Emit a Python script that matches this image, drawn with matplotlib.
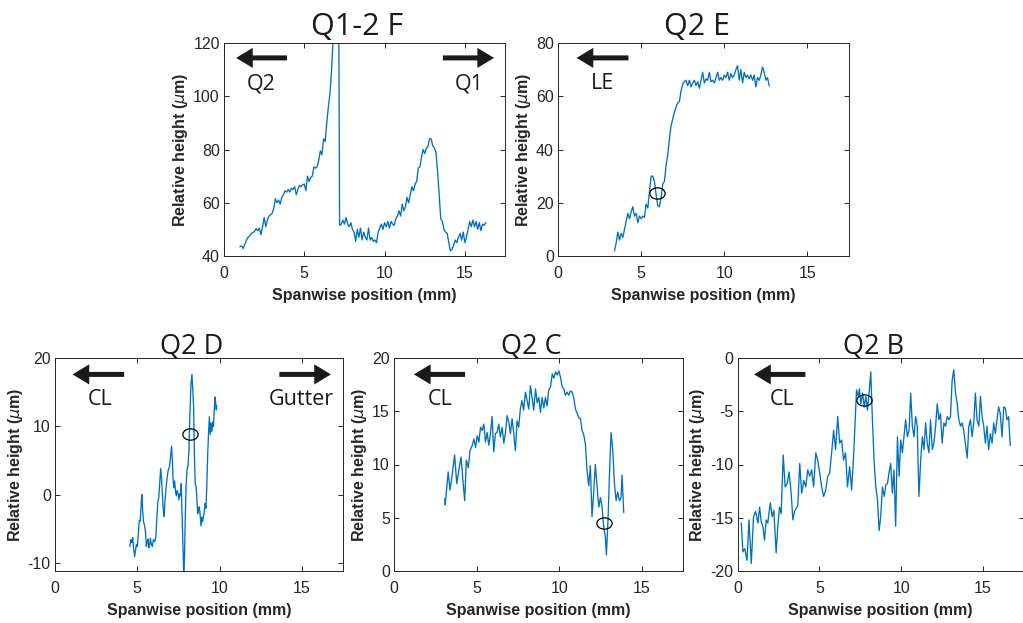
import numpy as np
import matplotlib
matplotlib.use('Agg')
import matplotlib.pyplot as plt
from matplotlib.path import Path
from matplotlib.transforms import Affine2D

# ---- profile data ----
# Q1-2 F : sampled every 0.1 mm from 1.0 mm
f_start, f_step = 1.0, 0.1
f_height = [
    43.5, 43.8, 42.8, 44.5, 46.0, 47.0, 47.5, 48.5, 48.8, 49.2,
    50.3, 49.5, 50.5, 48.0, 51.0, 54.5, 51.0, 53.5, 55.0, 55.5,
    56.0, 58.0, 61.5, 60.0, 61.0, 59.5, 62.0, 63.0, 64.5, 64.0,
    65.0, 64.0, 65.5, 65.0, 66.0, 63.0, 65.0, 66.5, 66.0, 66.8,
    67.0, 64.5, 70.0, 68.0, 69.5, 70.0, 73.5, 73.0, 73.5, 76.0,
    79.5, 78.0, 84.0, 83.0, 90.0, 96.0, 101.0, 110.0, 122.0, 160.0,
    200.0, 200.0, 51.5, 52.0, 53.5, 52.0, 54.5, 52.0, 51.0, 52.5,
    50.0, 49.0, 45.5, 50.0, 47.0, 50.5, 46.0, 49.0, 47.0, 46.0,
    50.5, 46.0, 47.0, 45.5, 46.0, 45.0, 49.0, 50.5, 52.0, 50.0,
    52.5, 51.0, 53.0, 50.5, 53.0, 52.0, 51.5, 54.0, 55.0, 57.0,
    55.0, 59.5, 57.0, 58.5, 62.0, 60.0, 63.0, 66.0, 64.5, 67.0,
    68.0, 73.0, 73.5, 77.0, 80.0, 78.5, 80.5, 81.0, 84.0, 84.0,
    81.5, 80.5, 79.0, 72.0, 63.0, 54.0, 53.0, 50.0, 49.0, 48.5,
    45.0, 42.0, 42.5, 44.0, 46.0, 45.0, 47.0, 48.5, 46.0, 49.0,
    45.0, 47.0, 50.0, 53.0, 51.0, 53.5, 51.0, 53.0, 50.0, 52.5,
    49.5, 52.0, 51.5, 52.5]

# Q2 E : sampled every 0.1 mm from 3.4 mm
e_start, e_step = 3.4, 0.1
e_height = [
    2.0, 5.0, 9.0, 6.0, 8.5, 7.0,
    10.0, 13.0, 16.0, 14.0, 16.5, 18.5, 15.0, 16.0, 12.5, 15.0,
    14.0, 15.0, 14.5, 19.5, 18.0, 24.0, 30.0, 30.0, 28.0, 23.0,
    19.0, 18.5, 22.0, 27.0, 28.0, 34.0, 38.0, 44.0, 49.0, 51.5,
    54.0, 56.0, 57.5, 58.0, 62.0, 64.5, 65.5, 66.0, 64.0, 66.0,
    63.5, 65.0, 66.0, 64.0, 65.5, 63.0, 66.0, 69.0, 65.0, 66.5,
    66.0, 69.0, 65.5, 66.0, 65.0, 67.0, 69.0, 66.0, 67.0, 66.0,
    68.0, 67.0, 69.0, 66.0, 68.5, 67.0, 68.0, 70.0, 71.5, 66.0,
    70.0, 65.0, 69.0, 67.0, 68.0, 66.5, 68.0, 66.0, 68.0, 63.5,
    67.0, 66.0, 68.0, 71.0, 69.0, 66.0, 67.0, 64.0]

# Q2 D : (position mm, height um)
d_profile = [
    (4.55, -7.6), (4.62, -6.6), (4.67, -7.0), (4.72, -6.3), (4.78, -8.0),
    (4.84, -9.1), (4.90, -8.0), (4.95, -7.3), (5.00, -7.6), (5.07, -5.5),
    (5.12, -3.8), (5.18, -3.9), (5.25, -0.8), (5.28, 0.0), (5.33, -2.5),
    (5.38, -4.0), (5.44, -4.5), (5.50, -5.5), (5.55, -7.6), (5.60, -7.0),
    (5.65, -6.5), (5.70, -7.8), (5.75, -7.4), (5.80, -6.4), (5.85, -7.3),
    (5.92, -7.6), (5.98, -6.6), (6.05, -6.9), (6.12, -6.4), (6.18, -3.8),
    (6.25, -1.0), (6.30, -0.6), (6.36, 1.5), (6.42, 3.8), (6.47, 2.5),
    (6.52, 0.2), (6.58, -2.2), (6.63, -3.2), (6.68, -1.0), (6.75, 1.0),
    (6.82, 2.6), (6.88, 3.6), (6.95, 4.0), (7.02, 5.5), (7.08, 7.1),
    (7.13, 5.0), (7.18, 2.0), (7.22, 1.0), (7.27, 2.0), (7.32, 0.5),
    (7.37, -0.2), (7.42, 0.6), (7.48, 0.2), (7.53, -0.8), (7.58, 0.1),
    (7.63, -0.2), (7.67, 1.6), (7.72, -3.0), (7.77, -7.0), (7.82, -11.5),
    (7.87, -9.0), (7.92, -3.0), (7.97, 1.5), (8.02, 3.6), (8.08, 4.2),
    (8.14, 6.5), (8.20, 12.0), (8.26, 16.0), (8.32, 17.6), (8.37, 15.5),
    (8.42, 13.0), (8.47, 6.0), (8.52, 1.5), (8.57, 1.2), (8.62, -0.5),
    (8.67, -2.8), (8.72, -2.0), (8.77, -1.8), (8.82, -3.0), (8.87, -4.6),
    (8.92, -3.3), (8.97, -4.0), (9.02, -3.2), (9.07, -2.6), (9.12, -1.3),
    (9.17, -2.0), (9.22, 1.0), (9.28, 6.0), (9.33, 9.0), (9.38, 11.4),
    (9.43, 8.8), (9.48, 10.5), (9.53, 9.2), (9.58, 10.6), (9.63, 10.0),
    (9.68, 12.5), (9.72, 14.3), (9.76, 13.5), (9.80, 12.4), (9.82, 13.0)]

# Q2 C
c_profile = [
    (3.08, 6.8), (3.10, 6.2), (3.28, 9.3), (3.39, 7.6), (3.53, 9.1),
    (3.67, 10.9), (3.80, 8.2), (3.94, 9.6), (4.06, 10.7), (4.18, 8.4),
    (4.28, 6.6), (4.38, 10.4), (4.50, 9.7), (4.60, 11.3), (4.74, 11.8),
    (4.84, 12.4), (4.94, 11.6), (5.04, 12.7), (5.14, 12.1), (5.24, 13.5),
    (5.34, 13.2), (5.44, 13.8), (5.54, 12.1), (5.64, 13.0), (5.74, 11.8),
    (5.84, 12.9), (5.94, 14.5), (6.04, 11.2), (6.14, 12.9), (6.24, 13.0),
    (6.34, 13.8), (6.44, 12.6), (6.55, 13.5), (6.65, 12.0), (6.75, 13.0),
    (6.85, 14.6), (6.95, 14.0), (7.05, 12.9), (7.15, 14.3), (7.25, 12.9),
    (7.35, 11.3), (7.45, 14.1), (7.55, 13.5), (7.65, 15.2), (7.75, 16.0),
    (7.85, 15.1), (7.96, 16.8), (8.06, 16.0), (8.16, 15.2), (8.26, 17.4),
    (8.36, 16.3), (8.46, 15.1), (8.57, 17.1), (8.67, 15.8), (8.77, 16.3),
    (8.87, 14.9), (8.97, 16.3), (9.07, 15.3), (9.17, 16.3), (9.27, 15.5),
    (9.37, 17.0), (9.48, 17.3), (9.58, 18.5), (9.68, 18.1), (9.78, 18.7),
    (9.88, 18.4), (9.98, 18.8), (10.08, 18.2), (10.18, 17.3), (10.28, 17.1),
    (10.38, 16.5), (10.48, 16.8), (10.58, 16.5), (10.68, 16.9), (10.78, 16.8),
    (10.88, 16.3), (10.99, 15.2), (11.09, 14.8), (11.19, 14.4), (11.29, 14.3),
    (11.39, 13.2), (11.49, 12.8), (11.59, 11.9), (11.69, 9.4), (11.79, 8.0),
    (11.89, 9.9), (11.99, 5.1), (12.09, 7.3), (12.19, 10.0), (12.30, 7.9),
    (12.40, 6.0), (12.50, 6.9), (12.60, 6.0), (12.70, 4.1), (12.80, 3.2),
    (12.86, 1.5), (12.96, 4.8), (13.04, 8.7), (13.14, 13.0), (13.25, 11.3),
    (13.35, 8.2), (13.45, 6.6), (13.55, 7.4), (13.65, 6.6), (13.75, 6.9),
    (13.81, 9.0), (13.91, 5.5)]

# Q2 B
b_profile = [
    (0.23, -15.5), (0.33, -18.2), (0.44, -17.9), (0.58, -19.0), (0.70, -15.2),
    (0.84, -19.3), (0.98, -14.9), (1.10, -14.4), (1.25, -15.5), (1.35, -14.0),
    (1.45, -15.4), (1.55, -15.8), (1.65, -17.1), (1.75, -15.2), (1.85, -15.5),
    (2.00, -13.6), (2.12, -14.9), (2.22, -14.3), (2.36, -18.3), (2.46, -15.8),
    (2.57, -14.0), (2.67, -14.6), (2.79, -9.1), (2.91, -12.1), (3.03, -11.8),
    (3.15, -10.7), (3.28, -12.7), (3.38, -15.2), (3.48, -14.4), (3.58, -14.1),
    (3.68, -13.9), (3.80, -9.9), (3.92, -12.7), (4.05, -11.5), (4.17, -12.1),
    (4.29, -10.5), (4.41, -11.1), (4.53, -10.5), (4.65, -12.1), (4.78, -8.9),
    (4.90, -9.6), (5.02, -10.8), (5.14, -12.1), (5.26, -13.0), (5.39, -12.4),
    (5.51, -11.1), (5.63, -10.8), (5.75, -8.9), (5.87, -6.8), (5.99, -8.6),
    (6.12, -5.5), (6.24, -8.0), (6.36, -7.7), (6.48, -9.6), (6.60, -8.9),
    (6.72, -12.1), (6.85, -10.2), (6.97, -12.4), (7.09, -9.3), (7.19, -5.8),
    (7.27, -3.0), (7.37, -3.6), (7.45, -2.9), (7.53, -4.3), (7.64, -3.3),
    (7.74, -4.6), (7.84, -3.6), (7.94, -4.9), (8.04, -3.2), (8.14, -1.3),
    (8.24, -5.8), (8.35, -9.9), (8.45, -12.1), (8.55, -13.3), (8.65, -16.2),
    (8.75, -14.9), (8.85, -12.1), (8.96, -13.0), (9.06, -11.9), (9.16, -11.8),
    (9.26, -10.7), (9.36, -9.9), (9.46, -12.7), (9.56, -10.5), (9.66, -15.8),
    (9.77, -7.4), (9.87, -11.1), (9.97, -7.7), (10.07, -8.9), (10.17, -7.4),
    (10.27, -5.8), (10.38, -7.4), (10.48, -6.8), (10.58, -3.3), (10.68, -6.4),
    (10.78, -7.4), (10.88, -5.5), (10.98, -6.4), (11.08, -13.0), (11.19, -9.6),
    (11.29, -7.4), (11.39, -8.6), (11.49, -6.1), (11.59, -8.0), (11.69, -8.9),
    (11.79, -5.8), (11.90, -8.6), (12.00, -8.0), (12.10, -6.4), (12.20, -4.3),
    (12.30, -5.8), (12.40, -5.2), (12.50, -8.0), (12.61, -6.1), (12.71, -6.4),
    (12.81, -5.5), (12.91, -5.8), (13.01, -5.5), (13.11, -2.1), (13.21, -1.1),
    (13.31, -3.2), (13.42, -4.3), (13.52, -5.8), (13.62, -6.4), (13.72, -6.1),
    (13.82, -6.8), (13.92, -8.0), (14.03, -9.4), (14.13, -6.4), (14.23, -5.8),
    (14.33, -7.4), (14.43, -6.1), (14.53, -3.3), (14.63, -5.8), (14.74, -6.4),
    (14.84, -3.6), (14.94, -5.5), (15.04, -6.4), (15.14, -8.0), (15.24, -6.4),
    (15.34, -8.6), (15.45, -7.1), (15.55, -8.0), (15.65, -6.1), (15.75, -7.1),
    (15.85, -5.8), (15.95, -4.6), (16.05, -5.2), (16.16, -7.4), (16.26, -4.6),
    (16.36, -4.7), (16.46, -5.8), (16.56, -5.5), (16.66, -8.2)]

# circled points
e_mark = (5.95, 23.6)
d_mark = (8.21, 8.8)
c_mark = (12.71, 4.55)
b_mark = (7.70, -3.9)

titles = ['Q1-2 F', 'Q2 E', 'Q2 D', 'Q2 C', 'Q2 B']
y_limits = [(40, 120), (0, 80), (-11.2, 20), (0, 20), (-20, 0)]
y_ticks = [[40, 60, 80, 100, 120], [0, 20, 40, 60, 80], [-10, 0, 10, 20],
           [0, 5, 10, 15, 20], [-20, -15, -10, -5, 0]]
x_ticks = [0, 5, 10, 15]

plt.rcParams['font.family'] = ['Liberation Sans', 'DejaVu Sans']
plt.rcParams['axes.unicode_minus'] = False
plt.rcParams['mathtext.fontset'] = 'dejavusans'

LINE = '#0072BD'
AX = '#262626'
W, H = 1023, 623


def px_axes(left, right, top, bottom):
    return [left / W, (H - bottom) / H, (right - left) / W, (bottom - top) / H]


def arrow(ax, tip, tail, y):
    ax.annotate('', xy=(tip, y), xytext=(tail, y), xycoords='axes fraction',
                arrowprops=dict(facecolor='#1a1a1a', edgecolor='none', width=3.6,
                                headwidth=14.5, headlength=12, shrink=0))


def label(ax, x, y, text):
    ax.text(x, y, text, transform=ax.transAxes, ha='center', va='center',
            fontsize=15.5, color='#1a1a1a', family='Open Sans')


ellipse = Path.unit_circle().transformed(Affine2D().scale(1.35, 1.0))

fig = plt.figure(figsize=(W / 100, H / 100), dpi=100)
boxes = [px_axes(224, 505, 43, 256), px_axes(558, 849, 43, 256),
         px_axes(55, 343, 358, 571), px_axes(394, 683, 358, 571),
         px_axes(737.5, 1024, 358, 571)]
axes = [fig.add_axes(b) for b in boxes]

f_pos = f_start + f_step * np.arange(len(f_height))
e_pos = e_start + e_step * np.arange(len(e_height))
profiles = [(f_pos, f_height), (e_pos, e_height), tuple(zip(*d_profile)),
            tuple(zip(*c_profile)), tuple(zip(*b_profile))]
marks = [None, e_mark, d_mark, c_mark, b_mark]

for i, ax in enumerate(axes):
    x, y = profiles[i]
    ax.plot(x, y, color=LINE, lw=0.95)
    if marks[i] is not None:
        ax.plot(*marks[i], marker=ellipse, ms=11, mfc='none', mec='k', mew=0.9)
    ax.set_xlim(0, 17.5)
    ax.set_ylim(*y_limits[i])
    ax.set_xticks(x_ticks)
    ax.set_yticks(y_ticks[i])
    for s in ax.spines.values():
        s.set_color(AX)
        s.set_linewidth(0.7)
    ax.tick_params(direction='in', length=3.5, width=0.7, color=AX, top=True,
                   right=True, labelsize=11.5, labelcolor=AX)
    ax.tick_params(axis='x', pad=7)
    ax.tick_params(axis='y', pad=3)
    ax.set_xlabel('Spanwise position (mm)', fontsize=11.5, fontweight='bold',
                  color=AX, labelpad=5)
    ax.set_ylabel(r'Relative height ($\mu$m)', fontsize=11.5, fontweight='bold',
                  color=AX, labelpad=2)
    top_row = i < 2
    width_px = boxes[i][2] * W
    ax.set_title(titles[i], family='Open Sans', color='#1a1a1a',
                 fontsize=22 if top_row else 19.5, pad=6 if top_row else 3.5,
                 x=0.5 - 7 / width_px)

# direction arrows
arrow(axes[0], 0.043, 0.224, 0.93)
label(axes[0], 0.132, 0.808, 'Q2')
arrow(axes[0], 0.961, 0.779, 0.93)
label(axes[0], 0.872, 0.808, 'Q1')

arrow(axes[1], 0.064, 0.242, 0.93)
label(axes[1], 0.154, 0.808, 'LE')

arrow(axes[2], 0.061, 0.24, 0.923)
label(axes[2], 0.156, 0.803, 'CL')
arrow(axes[2], 0.958, 0.779, 0.923)
label(axes[2], 0.854, 0.803, 'Gutter')

arrow(axes[3], 0.069, 0.246, 0.923)
label(axes[3], 0.159, 0.803, 'CL')

arrow(axes[4], 0.058, 0.237, 0.923)
label(axes[4], 0.155, 0.803, 'CL')

fig.savefig('out.png', dpi=100)
